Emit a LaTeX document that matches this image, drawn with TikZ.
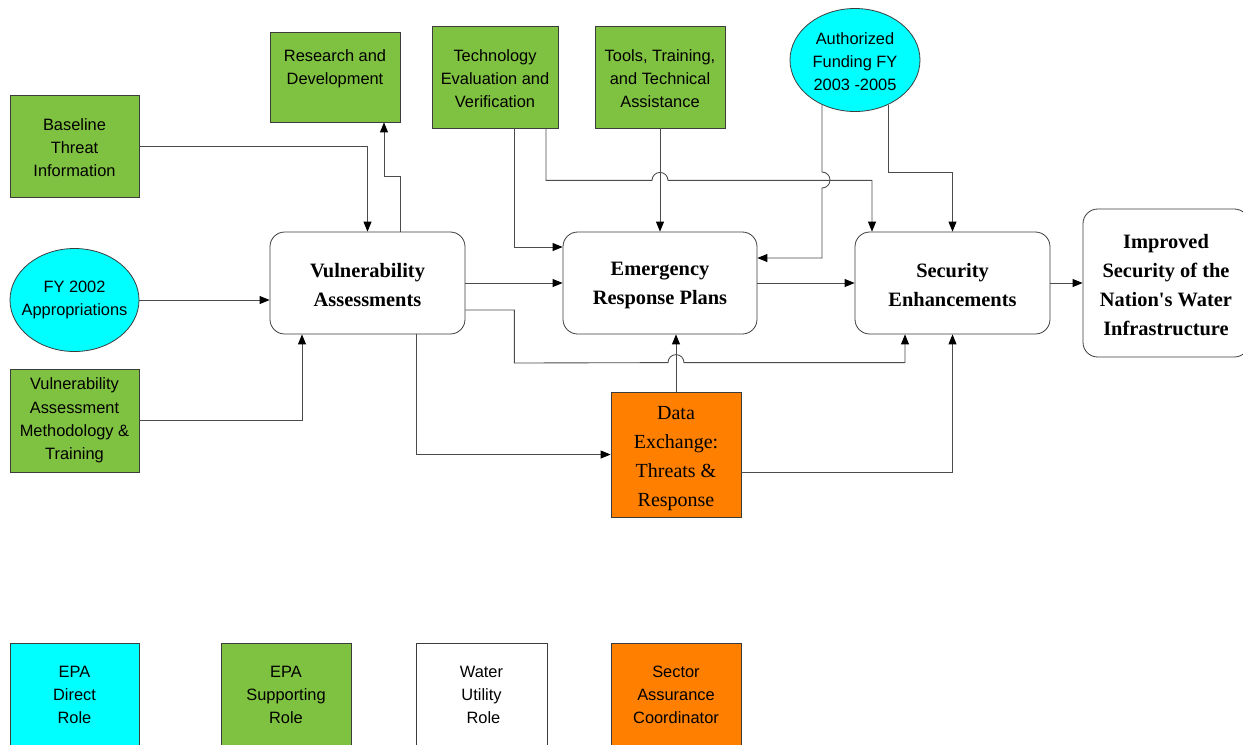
\documentclass[tikz,border=0pt]{standalone}
\usepackage{fontspec}
\setmainfont{Liberation Serif}[Ligatures=TeXOff]
\newfontfamily\sansf{Liberation Sans}
\usetikzlibrary{arrows.meta,calc,shapes.geometric}
\definecolor{epagreen}{RGB}{127,193,65}
\definecolor{epacyan}{RGB}{0,255,255}
\definecolor{epaorange}{RGB}{255,128,0}
\definecolor{edge}{RGB}{60,60,60}
\definecolor{wire}{RGB}{75,75,75}
\newcommand\sstrut{\rule{0pt}{11pt}}
\newcommand\bstrut{\rule{0pt}{13.5pt}}
\newcommand\dstrut{\rule{0pt}{16.5pt}}
\tikzset{
  sanstext/.style={font=\sansf\fontsize{12.3}{17.4}\selectfont, align=center, inner sep=0pt},
  greenbox/.style={rectangle, draw=edge, line width=0.6pt, fill=epagreen, sanstext},
  cyanell/.style={ellipse, draw=edge, line width=0.6pt, fill=epacyan, sanstext, inner xsep=-8pt, inner ysep=-6pt},
  cyanbox/.style={rectangle, draw=edge, line width=0.6pt, fill=epacyan, sanstext},
  orangebox/.style={rectangle, draw=edge, line width=0.6pt, fill=epaorange, sanstext},
  whitebox/.style={rectangle, draw=edge, line width=0.6pt, fill=white, sanstext},
  utilbox/.style={rectangle, rounded corners=11pt, draw=edge, line width=0.6pt, fill=white,
    align=center, inner sep=0pt, font=\bfseries\fontsize{15.3}{21.75}\selectfont},
  dexbox/.style={rectangle, draw=edge, line width=0.6pt, fill=epaorange,
    align=center, inner sep=0pt, font=\fontsize{15}{21.75}\selectfont},
  conn/.style={draw=wire, line width=0.65pt, -{Triangle[length=7.5pt,width=6pt,color=black]}},
}
\begin{document}
\begin{tikzpicture}[x=0.75pt,y=-0.75pt]
\useasboundingbox (0,0) rectangle (1243,744);
% top / left inputs
\node[greenbox, minimum width=96.75pt, minimum height=76.5pt] (bti) at (74.5,146) {\sstrut Baseline\\Threat\\Information};
\node[greenbox, minimum width=97.5pt, minimum height=67.5pt] (rd) at (335,77) {\sstrut Research and\\Development\\\mbox{}};
\node[greenbox, minimum width=94.5pt, minimum height=76.5pt] (tev) at (495,77) {\sstrut Technology\\Evaluation and\\Verification};
\node[greenbox, minimum width=97.5pt, minimum height=76.5pt] (tools) at (660,77) {\sstrut Tools, Training,\\and Technical\\Assistance};
\node[cyanell, minimum width=97.5pt, minimum height=77.25pt] (auth) at (855,60) {\sstrut Authorized\\Funding FY\\2003 -2005};
\node[cyanell, minimum width=96.75pt, minimum height=77.25pt] (fy) at (74.5,300) {FY 2002\\Appropriations};
\node[greenbox, minimum width=96.75pt, minimum height=77.25pt] (vamt) at (74.5,420.5) {Vulnerability\\Assessment\\Methodology \&\\Training};
% main chain
\node[utilbox, minimum width=146.25pt, minimum height=76.5pt] (va) at (367.5,283) {\bstrut Vulnerability\\Assessments};
\node[utilbox, minimum width=145.5pt, minimum height=76.5pt] (erp) at (660,283) {\bstrut Emergency\\Response Plans};
\node[utilbox, minimum width=146.25pt, minimum height=76.5pt] (se) at (952.5,283) {\bstrut Security\\Enhancements};
\node[utilbox, minimum width=124.5pt, minimum height=111pt] (imp) at (1166,283) {\bstrut Improved\\Security of the\\Nation's Water\\Infrastructure};
\node[dexbox, minimum width=97.5pt, minimum height=93.75pt] (de) at (676,454.5) {\dstrut Data\\Exchange:\\Threats \&\\Response};
% legend
\node[cyanbox, minimum width=96.75pt, minimum height=78pt] (ldir) at (74.5,695) {EPA\\Direct\\Role};
\node[greenbox, minimum width=97.5pt, minimum height=78pt] (lsup) at (286,695) {EPA\\Supporting\\Role};
\node[whitebox, minimum width=98.25pt, minimum height=78pt] (lwat) at (481.5,695) {Water\\Utility\\\hspace*{3pt}Role};
\node[orangebox, minimum width=97.5pt, minimum height=78pt] (lsac) at (676,695) {Sector\\Assurance\\Coordinator};
% connectors
\draw[conn] (bti.east) -| (va.north);
\draw[conn] ($(va.north)+(32.5,0)$) -- ($(va.north)+(32.5,-55)$) -| ($(rd.south)+(49,0)$);
\draw[conn] (fy.east) -- (fy.east -| va.west);
\draw[conn] (vamt.east) -| ($(va.south)+(-65.5,0)$);
\draw[conn] (va.east) -- (erp.west);
\draw[conn] ($(va.east)+(0,27)$) -| ($(va.east)+(49,80)$) -- ($(de.north)+(-8,-29)$)
  arc[start angle=180, end angle=0, radius=6pt] -| ($(se.south)+(-47.5,0)$);
\draw[conn] ($(va.south)+(48.5,0)$) |- (de.west);
\draw[conn] ($(tev.south)+(19,0)$) |- ($(erp.west)+(0,-36)$);
\draw[conn] ($(tev.south)+(51,0)$) |- ($(tools.south)+(-8,52)$)
  arc[start angle=180, end angle=0, radius=6pt] -| ($(se.north)+(-80.5,0)$);
\draw[conn] (tools.south) -- (erp.north);
\draw[conn] ($(auth.center)+(-33,44)$) -- ($(auth.center)+(-33,112)$)
  arc[start angle=90, end angle=-90, radius=6pt] |- ($(erp.east)+(0,-25)$);
\draw[conn] ($(auth.center)+(33,45)$) -- ($(auth.center)+(33,112)$) -| (se.north);
\draw[conn] (erp.east) -- (se.west);
\draw[conn] (se.east) -- (imp.west);
\draw[conn] (de.north) -- (de.north |- erp.south);
\draw[conn] ($(de.east)+(0,17.5)$) -| (se.south);
\end{tikzpicture}
\end{document}
